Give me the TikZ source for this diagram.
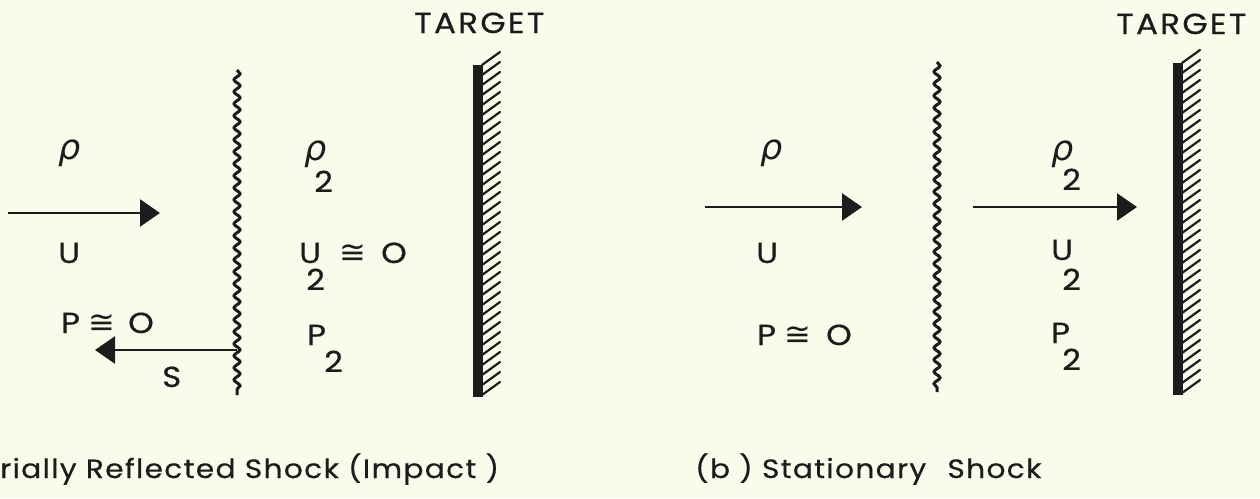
\documentclass[tikz,border=0pt]{standalone}
\usepackage{fontspec}
\setmainfont{Poppins}[FakeStretch=1.12, FakeBold=0.5]
\newfontfamily\lettering{Poppins}[FakeStretch=1.12, LetterSpace=8, FakeBold=0.5]
\newfontfamily\captionfont{Poppins}[FakeStretch=1.12, LetterSpace=5, FakeBold=0.5]
\newfontfamily\grk{DejaVu Sans}
\usetikzlibrary{arrows.meta,decorations.pathmorphing}
\definecolor{bg}{RGB}{251,251,236}
\definecolor{ink}{RGB}{28,28,28}
\tikzset{
  lbl/.style={anchor=base west, inner sep=0pt, text=ink, font=\fontsize{29}{31}\selectfont},
  titletext/.style={anchor=base west, inner sep=0pt, text=ink, font=\lettering\fontsize{29}{31}\selectfont},
  captext/.style={anchor=base west, inner sep=0pt, text=ink, font=\captionfont\fontsize{26.5}{28}\selectfont},
  rho/.style={anchor=base west, inner sep=0pt, text=ink, font=\grk\itshape\fontsize{35}{37}\selectfont},
  cong/.style={anchor=base west, inner sep=0pt, text=ink, font=\grk\fontsize{32}{34}\selectfont},
  flow/.style={draw=ink, line width=2.5pt, -{Triangle[length=20pt,width=27pt]}},
  shockline/.style={draw=ink, line width=3pt, decorate, decoration={snake, segment length=12pt, amplitude=3pt}},
  wall/.style={fill=ink},
  hatchline/.style={draw=ink, line width=2.2pt, line cap=round}
}
\begin{document}
\begin{tikzpicture}[x=1pt,y=-1pt]
\fill[bg] (0,0) rectangle (1260,498);
\useasboundingbox (0,0) rectangle (1260,498);

% ---------------- panel (a) ----------------
\node[rho] (rhoA) at (58,159) {ρ};
\coordinate (uA0) at (8,213);
\coordinate (uA1) at (160,213);
\draw[flow] (uA0) -- (uA1);
\node[lbl] (UA) at (58,263) {U};
\node[lbl] (PA) at (61,333) {P};
\node[cong] (cgA) at (88,333) {≅};
\node[lbl] (OA) at (128,333) {O};
\coordinate (shA0) at (237,70);
\coordinate (shA1) at (237,395);
\draw[shockline] (shA0) -- (shA1);
\coordinate (sA0) at (237,350);
\coordinate (sA1) at (95,350);
\draw[flow] (sA0) -- (sA1);
\node[lbl] (SA) at (162,387) {S};

\node[rho] (rho2A) at (304,160) {ρ};
\node[lbl] (rho2Asub) at (314,192) {2};
\node[lbl] (U2A) at (299,263) {U};
\node[lbl] (U2Asub) at (306,290) {2};
\node[cong] (cg2A) at (339,263) {≅};
\node[lbl] (O2A) at (381,263) {O};
\node[lbl] (P2A) at (307,345) {P};
\node[lbl] (P2Asub) at (324,372) {2};

\fill[wall] (473,65) rectangle (483,397);
\foreach \y in {65,75,...,395} \draw[hatchline] (482,\y) -- ++(18,-13);
\node[titletext] (TA) at (414,33) {TARGET};
\node[captext] (capA) at (0,478) {rially Reflected Shock (Impact )};

% ---------------- panel (b) ----------------
\node[rho] (rhoB) at (760,159) {ρ};
\coordinate (uB0) at (705,207);
\coordinate (uB1) at (862,207);
\draw[flow] (uB0) -- (uB1);
\node[lbl] (UB) at (756,263) {U};
\node[lbl] (PB) at (757,345) {P};
\node[cong] (cgB) at (784,345) {≅};
\node[lbl] (OB) at (826,345) {O};
\coordinate (shB0) at (937,62);
\coordinate (shB1) at (937,392);
\draw[shockline] (shB0) -- (shB1);
\coordinate (u2B0) at (973,207);
\coordinate (u2B1) at (1137,207);
\draw[flow] (u2B0) -- (u2B1);
\node[rho] (rho2B) at (1051,160) {ρ};
\node[lbl] (rho2Bsub) at (1062,190) {2};
\node[lbl] (U2B) at (1051,260) {U};
\node[lbl] (U2Bsub) at (1062,290) {2};
\node[lbl] (P2B) at (1051,343) {P};
\node[lbl] (P2Bsub) at (1062,370) {2};

\fill[wall] (1173,63) rectangle (1183,395);
\foreach \y in {63,73,...,393} \draw[hatchline] (1182,\y) -- ++(18,-13);
\node[titletext] (TB) at (1116,34) {TARGET};
\node[captext] (capB) at (695,478) {(b ) Stationary\hspace{12pt} Shock};
\end{tikzpicture}
\end{document}
